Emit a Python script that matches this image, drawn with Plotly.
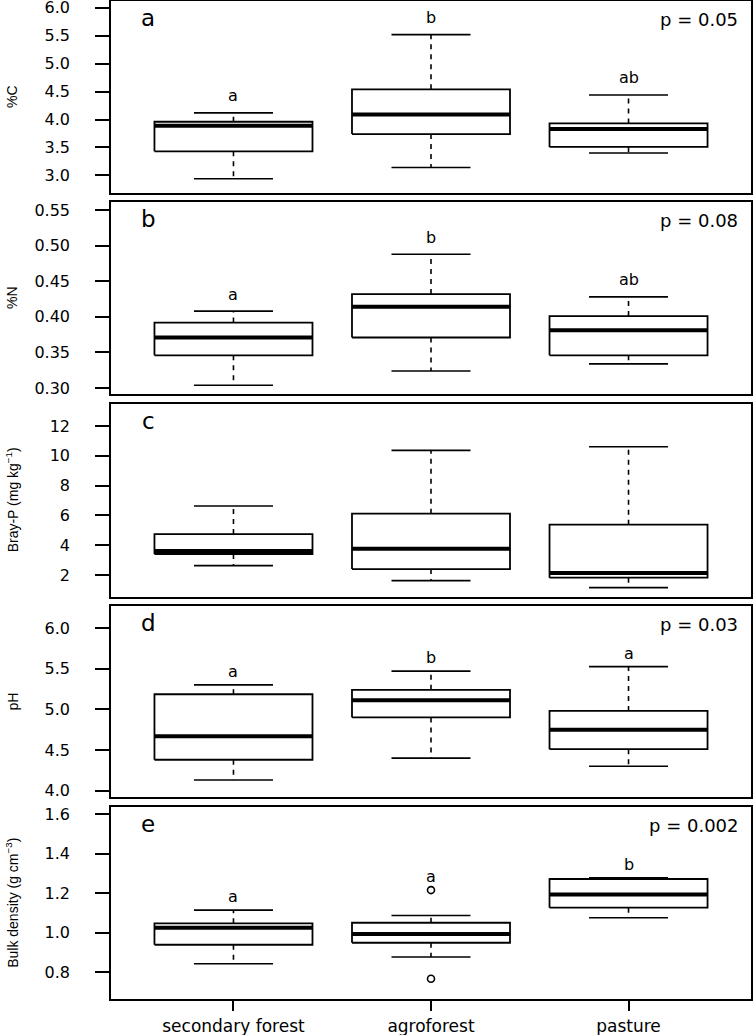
import plotly.graph_objects as go

# ---------------- data ----------------
groups = ["secondary forest", "agroforest", "pasture"]

c_low = [2.94, 3.14, 3.40]
c_q1 = [3.43, 3.74, 3.51]
c_med = [3.89, 4.09, 3.83]
c_q3 = [3.96, 4.54, 3.93]
c_high = [4.12, 5.52, 4.44]
c_letters = ["a", "b", "ab"]
c_p = "p = 0.05"
c_ticks = [3.0, 3.5, 4.0, 4.5, 5.0, 5.5, 6.0]

n_low = [0.304, 0.324, 0.334]
n_q1 = [0.346, 0.371, 0.346]
n_med = [0.371, 0.414, 0.381]
n_q3 = [0.392, 0.432, 0.401]
n_high = [0.408, 0.488, 0.428]
n_letters = ["a", "b", "ab"]
n_p = "p = 0.08"
n_ticks = [0.30, 0.35, 0.40, 0.45, 0.50, 0.55]

p_low = [2.63, 1.62, 1.15]
p_q1 = [3.41, 2.40, 1.82]
p_med = [3.61, 3.77, 2.13]
p_q3 = [4.75, 6.12, 5.38]
p_high = [6.63, 10.37, 10.61]
p_letters = ["", "", ""]
p_p = ""
p_ticks = [2, 4, 6, 8, 10, 12]

ph_low = [4.13, 4.40, 4.30]
ph_q1 = [4.38, 4.90, 4.51]
ph_med = [4.67, 5.11, 4.75]
ph_q3 = [5.185, 5.24, 4.98]
ph_high = [5.30, 5.47, 5.525]
ph_letters = ["a", "b", "a"]
ph_p = "p = 0.03"
ph_ticks = [4.0, 4.5, 5.0, 5.5, 6.0]

bd_low = [0.844, 0.878, 1.076]
bd_q1 = [0.94, 0.95, 1.127]
bd_med = [1.026, 0.994, 1.194]
bd_q3 = [1.048, 1.051, 1.272]
bd_high = [1.115, 1.088, 1.278]
bd_out_group = ["agroforest", "agroforest"]
bd_out_val = [1.216, 0.768]
bd_letters = ["a", "a", "b"]
bd_p = "p = 0.002"
bd_ticks = [0.8, 1.0, 1.2, 1.4, 1.6]

panel_labels = ["a", "b", "c", "d", "e"]
y_titles = ["%C", "%N", "Bray-P (mg kg<sup>−1</sup>)", "pH",
            "Bulk density (g cm<sup>−3</sup>)"]

# ---------------- style / layout ----------------
W, H = 754, 1035
ML, MR = 111, 3
panel_px = [(0.8, 193.3), (201.7, 394.3), (404.0, 596.7), (605.7, 797.3), (806.7, 999.0)]
y_ranges = [[2.679, 6.126], [0.2912, 0.5617], [0.544, 13.48], [3.918, 6.274], [0.666, 1.637]]
tick_fmt = [".1f", ".2f", "d", ".1f", ".1f"]
letter_shift = [17, 17, 0, 13.5, 13.5]
x_range = [0.38, 3.62]
HALF_BOX = 0.4
HALF_CAP = 0.2

TICK_FONT = dict(family="DejaVu Sans", size=16, color="black")
TEXT_FONT = dict(family="DejaVu Sans", size=16, color="black")
P_FONT = dict(family="DejaVu Sans", size=18, color="black")
LABEL_FONT = dict(family="DejaVu Sans", size=23, color="black")
YT_FONT = dict(family="Liberation Sans, Arial", size=14, color="black")
XT_FONT = dict(family="DejaVu Sans", size=17, color="black")

panels = [
    dict(low=c_low, q1=c_q1, med=c_med, q3=c_q3, high=c_high, letters=c_letters, p=c_p,
         ticks=c_ticks, out_g=[], out_v=[]),
    dict(low=n_low, q1=n_q1, med=n_med, q3=n_q3, high=n_high, letters=n_letters, p=n_p,
         ticks=n_ticks, out_g=[], out_v=[]),
    dict(low=p_low, q1=p_q1, med=p_med, q3=p_q3, high=p_high, letters=p_letters, p=p_p,
         ticks=p_ticks, out_g=[], out_v=[]),
    dict(low=ph_low, q1=ph_q1, med=ph_med, q3=ph_q3, high=ph_high, letters=ph_letters, p=ph_p,
         ticks=ph_ticks, out_g=[], out_v=[]),
    dict(low=bd_low, q1=bd_q1, med=bd_med, q3=bd_q3, high=bd_high, letters=bd_letters, p=bd_p,
         ticks=bd_ticks, out_g=bd_out_group, out_v=bd_out_val),
]

fig = go.Figure()
annotations = []
pos = {g: i + 1 for i, g in enumerate(groups)}

for k, pnl in enumerate(panels):
    xa = "x" if k == 0 else f"x{k+1}"
    ya = "y" if k == 0 else f"y{k+1}"
    bx, by, mx, my, wx, wy, cx, cy = [], [], [], [], [], [], [], []
    for j, g in enumerate(groups):
        c = pos[g]
        bx += [c - HALF_BOX, c + HALF_BOX, c + HALF_BOX, c - HALF_BOX, c - HALF_BOX, None]
        by += [pnl["q1"][j], pnl["q1"][j], pnl["q3"][j], pnl["q3"][j], pnl["q1"][j], None]
        mx += [c - HALF_BOX, c + HALF_BOX, None]
        my += [pnl["med"][j], pnl["med"][j], None]
        wx += [c, c, None, c, c, None]
        wy += [pnl["q3"][j], pnl["high"][j], None, pnl["q1"][j], pnl["low"][j], None]
        cx += [c - HALF_CAP, c + HALF_CAP, None, c - HALF_CAP, c + HALF_CAP, None]
        cy += [pnl["high"][j], pnl["high"][j], None, pnl["low"][j], pnl["low"][j], None]
    common = dict(xaxis=xa, yaxis=ya, showlegend=False, hoverinfo="skip", mode="lines")
    fig.add_trace(go.Scatter(x=wx, y=wy, line=dict(color="black", width=1.6, dash="5px,5px"), **common))
    fig.add_trace(go.Scatter(x=cx, y=cy, line=dict(color="black", width=1.6), **common))
    fig.add_trace(go.Scatter(x=bx, y=by, line=dict(color="black", width=1.8), **common))
    fig.add_trace(go.Scatter(x=mx, y=my, line=dict(color="black", width=4), **common))
    if pnl["out_g"]:
        fig.add_trace(go.Scatter(x=[pos[g] for g in pnl["out_g"]], y=pnl["out_v"], mode="markers",
                                 marker=dict(symbol="circle-open", size=7, color="black",
                                             line=dict(width=1.6)),
                                 xaxis=xa, yaxis=ya, showlegend=False, hoverinfo="skip"))
    # group letters
    for j, g in enumerate(groups):
        if pnl["letters"][j]:
            top = max([pnl["high"][j]] + [v for gg, v in zip(pnl["out_g"], pnl["out_v"]) if gg == g])
            annotations.append(dict(x=pos[g], y=top, xref=xa, yref=ya, text=pnl["letters"][j],
                                    showarrow=False, yanchor="middle", xanchor="center",
                                    yshift=letter_shift[k], font=TEXT_FONT))
    dom = f"{xa} domain"
    ydom = f"{ya} domain"
    annotations.append(dict(x=(148 - ML) / (W - ML - MR), y=1, xref=dom, yref=ydom,
                            text=panel_labels[k], showarrow=False, xanchor="center",
                            yanchor="middle", yshift=-17, font=LABEL_FONT))
    if pnl["p"]:
        annotations.append(dict(x=(740 - ML) / (W - ML - MR), y=1, xref=dom, yref=ydom,
                                text=pnl["p"], showarrow=False, xanchor="right",
                                yanchor="middle", yshift=-19, font=P_FONT))
    top_px, bot_px = panel_px[k]
    annotations.append(dict(x=(12 - ML) / (W - ML - MR), y=1 - (top_px + bot_px) / 2 / H,
                            xref="paper", yref="paper", text=y_titles[k], textangle=-90,
                            showarrow=False, xanchor="center", yanchor="middle", font=YT_FONT))

    yaxis = dict(domain=[1 - bot_px / H, 1 - top_px / H], range=y_ranges[k], anchor=xa,
                 tickvals=pnl["ticks"], tickformat=tick_fmt[k], ticks="outside", ticklen=14,
                 tickwidth=1.5, tickcolor="black", tickfont=TICK_FONT, ticklabelstandoff=22,
                 ticklabeloverflow="allow",
                 showgrid=False, zeroline=False, showline=True, mirror=True,
                 linecolor="black", linewidth=1.6, automargin=False)
    is_last = k == len(panels) - 1
    xaxis = dict(domain=[0, 1], range=x_range, anchor=ya, showgrid=False, zeroline=False,
                 showline=True, mirror=True, linecolor="black", linewidth=1.6,
                 automargin=False, ticklen=10, tickwidth=1.5, tickcolor="black",
                 tickfont=XT_FONT)
    if is_last:
        xaxis.update(tickvals=[pos[g] for g in groups], ticktext=groups, ticks="outside",
                     showticklabels=True, ticklabelstandoff=1, ticklabeloverflow="allow")
    else:
        xaxis.update(ticks="", showticklabels=False)
    fig.layout[f"xaxis{'' if k == 0 else k+1}"] = xaxis
    fig.layout[f"yaxis{'' if k == 0 else k+1}"] = yaxis

fig.update_layout(width=W, height=H, margin=dict(l=ML, r=MR, t=0, b=0, pad=0),
                  paper_bgcolor="white", plot_bgcolor="white", annotations=annotations,
                  showlegend=False)

fig.write_html("out.html", config={"displayModeBar": False},
               post_script="document.body.style.margin='0';document.body.style.overflow='hidden';")
